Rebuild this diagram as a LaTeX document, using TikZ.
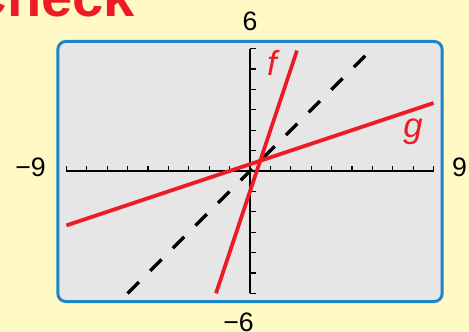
\documentclass[tikz,border=0pt]{standalone}
\usepackage{fontspec}
\setmainfont{Liberation Sans}
\usepackage{xcolor}
\usepackage{tikz}
\definecolor{pageyellow}{RGB}{255,249,198}
\definecolor{screengray}{RGB}{230,230,230}
\definecolor{framebl}{RGB}{28,132,202}
\definecolor{plotred}{RGB}{237,28,36}

\begin{document}
\begin{tikzpicture}[
    x=15.3pt, y=15.3pt,
    axis/.style={line width=1.1pt},
    axistick/.style={line width=1pt},
    curve/.style={line width=2.8pt, draw=plotred},
    mirror/.style={line width=2.6pt, dash pattern=on 12pt off 12pt},
    num/.style={inner sep=0pt, font=\fontsize{20}{24}\selectfont},
    fname/.style={inner sep=0pt, text=plotred, font=\fontsize{26}{30}\selectfont\itshape}
]
\useasboundingbox[fill=pageyellow] (-12.255,-7.892) rectangle (10.735,8.382);
\node[anchor=base east, inner sep=0pt, text=plotred,
    font=\fontsize{42}{48}\selectfont\bfseries] (title) at (-5.64,7.55) {Check};
\draw[fill=screengray, draw=framebl, line width=2.2pt, rounded corners=6pt]
    (-9.42,-6.4) rectangle (9.42,6.35);

\draw[axis] (-9,0) -- (9,0);
\draw[axis] (0,-6) -- (0,6);
\foreach \x in {-9,...,9}
    \draw[axistick] (\x,0) -- (\x,0.25);
\foreach \y in {-6,...,6}
    \draw[axistick] (0,\y) -- (0.3,\y);

\coordinate (idlo) at (-6,-6);
\coordinate (idhi) at (5.9,5.9);
\coordinate (flo) at (-1.667,-6);
\coordinate (fhi) at (2.3,5.9);
\coordinate (glo) at (-9,-2.667);
\coordinate (ghi) at (9,3.333);

\draw[mirror] (idlo) -- (idhi);
\draw[curve] (glo) -- (ghi);
\draw[curve] (flo) -- (fhi);

\node[fname, anchor=base] (flab) at (1.08,4.66) {f};
\node[fname, anchor=base] (glab) at (7.99,1.62) {g};

\node[num, anchor=base] (ymax) at (0,6.91) {6};
\node[num, anchor=base] (ymin) at (-0.56,-7.89) {−6};
\node[num, anchor=base east] (xmin) at (-10.0,-0.29) {−9};
\node[num, anchor=base west] (xmax) at (9.9,-0.29) {9};
\end{tikzpicture}
\end{document}
